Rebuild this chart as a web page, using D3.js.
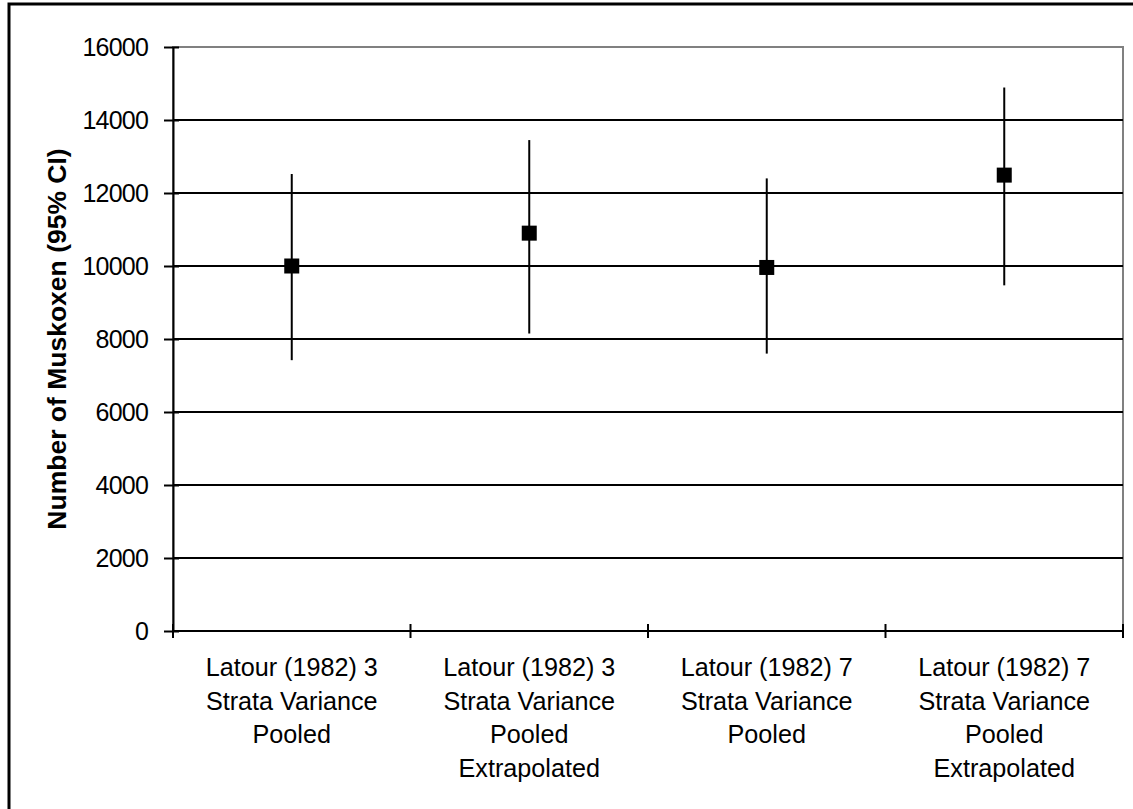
<!DOCTYPE html>
<html>
<head>
<meta charset="utf-8">
<script src="https://cdn.jsdelivr.net/npm/d3@7"></script>
<style>
  html, body { margin: 0; padding: 0; background: #fff; }
  svg { display: block; font-family: Arial, "Liberation Sans", sans-serif; }
</style>
</head>
<body>
<svg id="chart" width="1133" height="809"></svg>
<script>
// ---- data ----
const categories = [
  ["Latour (1982) 3", "Strata Variance", "Pooled"],
  ["Latour (1982) 3", "Strata Variance", "Pooled", "Extrapolated"],
  ["Latour (1982) 7", "Strata Variance", "Pooled"],
  ["Latour (1982) 7", "Strata Variance", "Pooled", "Extrapolated"]
];
const estimates = [10000, 10900, 9960, 12490];
const lowerCI   = [7420, 8150, 7600, 9470];
const upperCI   = [12520, 13450, 12400, 14890];
const yTicks    = [0, 2000, 4000, 6000, 8000, 10000, 12000, 14000, 16000];
const yTitle    = "Number of Muskoxen (95% CI)";

(function () {
// ---- layout ----
const svg = d3.select("#chart");
const W = 1133, H = 809;
const pLeft = 173, pRight = 1123, pTop = 47, pBottom = 631;

svg.append("rect").attr("width", W).attr("height", H).attr("fill", "#fff");
// outer chart border (right/bottom edges fall outside the picture)
svg.append("rect")
  .attr("x", 9).attr("y", 4).attr("width", W + 20).attr("height", H + 20)
  .attr("fill", "none").attr("stroke", "#000").attr("stroke-width", 3);

const idx = d3.range(categories.length);
const x = d3.scaleBand().domain(idx).range([pLeft, pRight]).padding(0);
const y = d3.scaleLinear().domain([0, 16000]).range([pBottom, pTop]);

// plot area frame (gray top/right)
svg.append("rect")
  .attr("x", pLeft).attr("y", pTop).attr("width", pRight - pLeft).attr("height", pBottom - pTop)
  .attr("fill", "none").attr("stroke", "#808080").attr("stroke-width", 2);

// gridlines
svg.append("g").selectAll("line").data(yTicks.filter(t => t > 0 && t < 16000)).join("line")
  .attr("x1", pLeft).attr("x2", pRight)
  .attr("y1", d => y(d)).attr("y2", d => y(d))
  .attr("stroke", "#000").attr("stroke-width", 2);

// y axis
const yAxis = d3.axisLeft(y).tickValues(yTicks).tickFormat(d3.format("d"))
  .tickSizeInner(9).tickSizeOuter(0).tickPadding(16);
const gy = svg.append("g").attr("transform", `translate(${pLeft},0)`).call(yAxis);
gy.select(".domain").attr("stroke", "#000").attr("stroke-width", 2);
gy.selectAll(".tick line").attr("stroke", "#000").attr("stroke-width", 2).attr("x2", -9);
gy.selectAll(".tick").append("line").attr("x1", 0).attr("x2", 6).attr("stroke", "#000").attr("stroke-width", 2);
gy.selectAll(".tick text").attr("font-size", 25).attr("letter-spacing", -0.8).attr("fill", "#000")
  .attr("font-family", "Arial, 'Liberation Sans', sans-serif");

// x axis
svg.append("line").attr("x1", pLeft).attr("x2", pRight).attr("y1", pBottom).attr("y2", pBottom)
  .attr("stroke", "#000").attr("stroke-width", 2);
const bounds = idx.map(i => x(i)).concat([x(idx[idx.length - 1]) + x.bandwidth()]);
svg.append("g").selectAll("line").data(bounds).join("line")
  .attr("x1", d => d).attr("x2", d => d)
  .attr("y1", pBottom - 7).attr("y2", pBottom + 7)
  .attr("stroke", "#000").attr("stroke-width", 2);

// category labels
const labels = svg.append("g").selectAll("text").data(idx).join("text")
  .attr("x", i => x(i) + x.bandwidth() / 2)
  .attr("y", 676)
  .attr("text-anchor", "middle")
  .attr("font-size", 25.2).attr("fill", "#000");
labels.each(function(i) {
  d3.select(this).selectAll("tspan").data(categories[i]).join("tspan")
    .attr("x", x(i) + x.bandwidth() / 2)
    .attr("dy", (d, k) => k === 0 ? 0 : 33.6)
    .text(d => d);
});

// y title
svg.append("text")
  .attr("transform", `translate(66,${(pTop + pBottom) / 2}) rotate(-90)`)
  .attr("text-anchor", "middle")
  .attr("font-size", 26.5).attr("font-weight", "bold").attr("fill", "#000")
  .text(yTitle);

// error bars
svg.append("g").selectAll("line").data(idx).join("line")
  .attr("x1", i => x(i) + x.bandwidth() / 2).attr("x2", i => x(i) + x.bandwidth() / 2)
  .attr("y1", i => y(lowerCI[i])).attr("y2", i => y(upperCI[i]))
  .attr("stroke", "#000").attr("stroke-width", 2);

// markers
const ms = 15;
svg.append("g").selectAll("rect").data(idx).join("rect")
  .attr("x", i => x(i) + x.bandwidth() / 2 - ms / 2)
  .attr("y", i => y(estimates[i]) - ms / 2)
  .attr("width", ms).attr("height", ms)
  .attr("fill", "#000");
})();
</script>
</body>
</html>
